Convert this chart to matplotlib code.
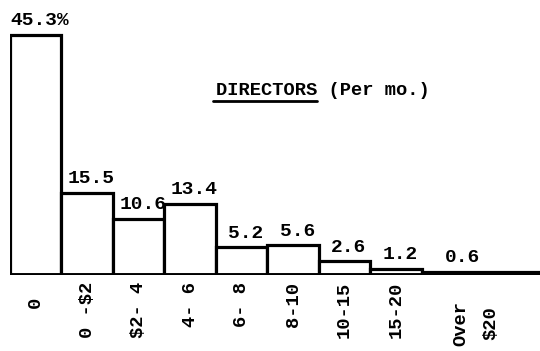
import matplotlib
matplotlib.use("Agg")
import matplotlib.pyplot as plt
from matplotlib.transforms import blended_transform_factory

# Monthly pay brackets for directors, share of directors in each (%)
categories = ["0", "0 -$2", "$2- 4", "4- 6", "6- 8", "8-10", "10-15", "15-20", "Over\n$20"]
percentages = [45.3, 15.5, 10.6, 13.4, 5.2, 5.6, 2.6, 1.2, 0.6]
value_labels = ["45.3%", "15.5", "10.6", "13.4", "5.2", "5.6", "2.6", "1.2", "0.6"]
bar_widths = [1, 1, 1, 1, 1, 1, 1, 1, 3]

FONT = "Liberation Mono"

fig = plt.figure(figsize=(5.4, 3.51), dpi=100)
ax = fig.add_axes([10 / 540, 1 - 275 / 351, 530 / 540, 275 / 351])

lefts = []
x = 0.0
for w in bar_widths:
    lefts.append(x)
    x += w

ax.bar(lefts, percentages, width=bar_widths, align="edge",
       facecolor="white", edgecolor="black", linewidth=2.3, zorder=2)
ax.axhline(0, color="black", linewidth=2.8, zorder=3)

ax.set_xlim(0, 530 / 51.5)
ax.set_ylim(0, 275 / 5.3)
ax.set_xticks([])
ax.set_yticks([])
for s in ax.spines.values():
    s.set_visible(False)

# value printed above each bar
for i, (left, v, lab) in enumerate(zip(lefts, percentages, value_labels)):
    cx = left + (0.5 if i < len(lefts) - 1 else 0.7)
    ax.annotate(lab, xy=(cx, v), xytext=(3, 4), textcoords="offset points",
                ha="center", va="bottom", family=FONT, fontweight="bold",
                fontsize=14, zorder=1)

# rotated bracket labels below the baseline
trans = blended_transform_factory(ax.transData, ax.transAxes)
for i, (left, lab) in enumerate(zip(lefts, categories)):
    cx = left + 0.5 if i < len(lefts) - 1 else left + 1.05
    if i == 0:
        y, va = -0.10, "center"
    elif i == len(lefts) - 1:
        y, va = -0.257, "bottom"
    else:
        y, va = -0.025, "top"
    ax.text(cx, y, lab, transform=trans, rotation=90, ha="center", va=va,
            family=FONT, fontweight="bold", fontsize=13.5, linespacing=2.0,
            clip_on=False)

# heading with the first word underlined
heading = "DIRECTORS (Per mo.)"
first_word = "DIRECTORS"
t = ax.text(4.0, 33.9, heading, ha="left", va="baseline",
            family=FONT, fontweight="bold", fontsize=13.5)
fig.canvas.draw()
bb = t.get_window_extent().transformed(ax.transAxes.inverted())
x_end = bb.x0 + (bb.x1 - bb.x0) * len(first_word) / len(heading)
ax.plot([bb.x0 - 0.005, x_end], [bb.y0 - 0.005, bb.y0 - 0.005], transform=ax.transAxes,
        color="black", linewidth=2.0, solid_capstyle="round")

fig.savefig("out.png", dpi=100)
